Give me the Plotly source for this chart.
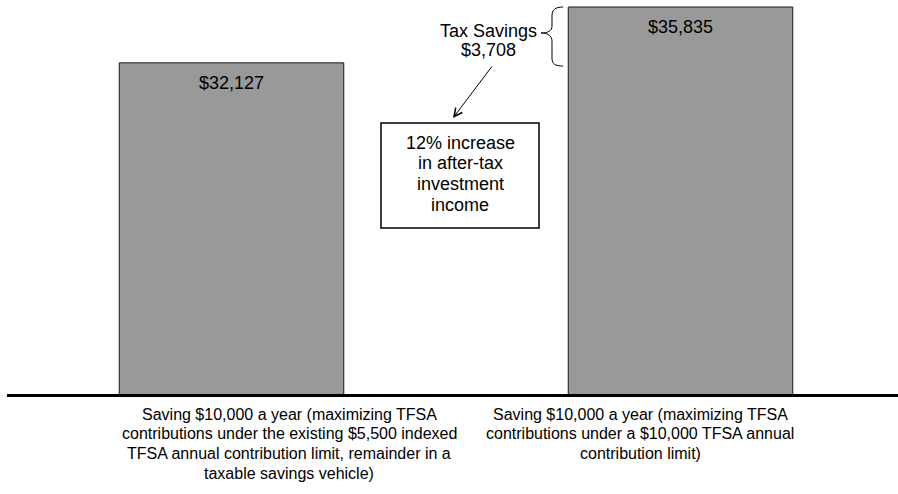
import plotly.graph_objects as go

# Chart data
categories = [
    "Saving $10,000 a year (maximizing TFSA\n"
    "contributions under the existing $5,500 indexed\n"
    "TFSA annual contribution limit, remainder in a\n"
    "taxable savings vehicle)",
    "Saving $10,000 a year (maximizing TFSA\n"
    "contributions under a $10,000 TFSA annual\n"
    "contribution limit)",
]
values = [32127, 35835]
savings_label = ["Tax Savings", "$3,708"]
note_lines = ["12% increase", "in after-tax", "investment", "income"]

# Canvas geometry (pixels)
W, H = 898, 494
ML, MR, MT, MB = 7, 0, 0, 98
PW, PH = W - ML - MR, H - MT - MB

FONT = "Liberation Sans, Arial, sans-serif"


def px(x):
    return (x - ML) / PW


def py(y):
    return (PH + MT - y) / PH


x_pos = list(range(len(values)))

fig = go.Figure(
    go.Bar(
        x=x_pos,
        y=values,
        width=0.5,
        marker=dict(color="#999999", line=dict(color="#1a1a1a", width=1)),
        hoverinfo="skip",
    )
)

annotations = []

# value labels inside the top of each bar
for xi, v in zip(x_pos, values):
    annotations.append(dict(
        x=xi, y=v, xref="x", yref="y", text=f"${v:,}", showarrow=False,
        yanchor="middle", yshift=-20, font=dict(family=FONT, size=18, color="#000"),
    ))

# category labels under the baseline
label_centers = [289, 640]
for cx, label in zip(label_centers, categories):
    for k, line in enumerate(label.split("\n")):
        annotations.append(dict(
            x=px(cx), y=py(414 + 19.7 * k), xref="paper", yref="paper",
            text=line, showarrow=False, xanchor="center", yanchor="middle",
            font=dict(family=FONT, size=16, color="#000"),
        ))

# tax savings callout
for k, line in enumerate(savings_label):
    annotations.append(dict(
        x=px(488), y=py(31 + 19 * k), xref="paper", yref="paper",
        text=line, showarrow=False, xanchor="center", yanchor="middle",
        font=dict(family=FONT, size=18, color="#000"),
    ))

# note box text
for k, line in enumerate(note_lines):
    annotations.append(dict(
        x=px(460), y=py(142.5 + 20.8 * k), xref="paper", yref="paper",
        text=line, showarrow=False, xanchor="center", yanchor="middle",
        font=dict(family=FONT, size=18, color="#000"),
    ))

# arrow from the savings figure down to the note box
annotations.append(dict(
    x=px(453), y=py(118), xref="paper", yref="paper", text="",
    showarrow=True, arrowhead=5, arrowsize=1.6, arrowwidth=1, arrowcolor="#000",
    ax=40, ay=-53, axref="pixel", ayref="pixel", standoff=0,
))

# curly brace spanning the difference between the two bars
brace_px = [
    ("M", 563, 7), ("C", 555, 7, 552, 10, 552, 16), ("L", 552, 26),
    ("C", 552, 31, 548, 33, 541, 33), ("C", 548, 33, 552, 36, 552, 41),
    ("L", 552, 58), ("C", 552, 64, 555, 66, 563, 66),
]
path = ""
for seg in brace_px:
    cmd, pts = seg[0], seg[1:]
    coords = []
    for i in range(0, len(pts), 2):
        coords.append(f"{px(pts[i]):.5f},{py(pts[i + 1]):.5f}")
    path += cmd + " ".join(coords) + " "

shapes = [
    # baseline (paper-referenced so the thick stroke is not clipped)
    dict(type="line", xref="paper", yref="paper", x0=0, x1=1,
         y0=py(395.5), y1=py(395.5),
         line=dict(color="#000", width=3), layer="above"),
    # note box
    dict(type="rect", xref="paper", yref="paper", x0=px(381), x1=px(539),
         y0=py(228), y1=py(123), line=dict(color="#000", width=1.5),
         fillcolor="rgba(0,0,0,0)"),
    dict(type="path", xref="paper", yref="paper", path=path.strip(),
         line=dict(color="#000", width=1)),
]

fig.update_layout(
    width=W, height=H,
    margin=dict(l=ML, r=MR, t=MT, b=MB, pad=0),
    paper_bgcolor="white", plot_bgcolor="white",
    showlegend=False,
    xaxis=dict(range=[-0.5, -0.5 + PW / 449], visible=False, fixedrange=True),
    yaxis=dict(range=[10000, 36300], visible=False, fixedrange=True),
    annotations=annotations,
    shapes=shapes,
    font=dict(family=FONT),
)

fig.write_html("out.html", config={"displayModeBar": False})
